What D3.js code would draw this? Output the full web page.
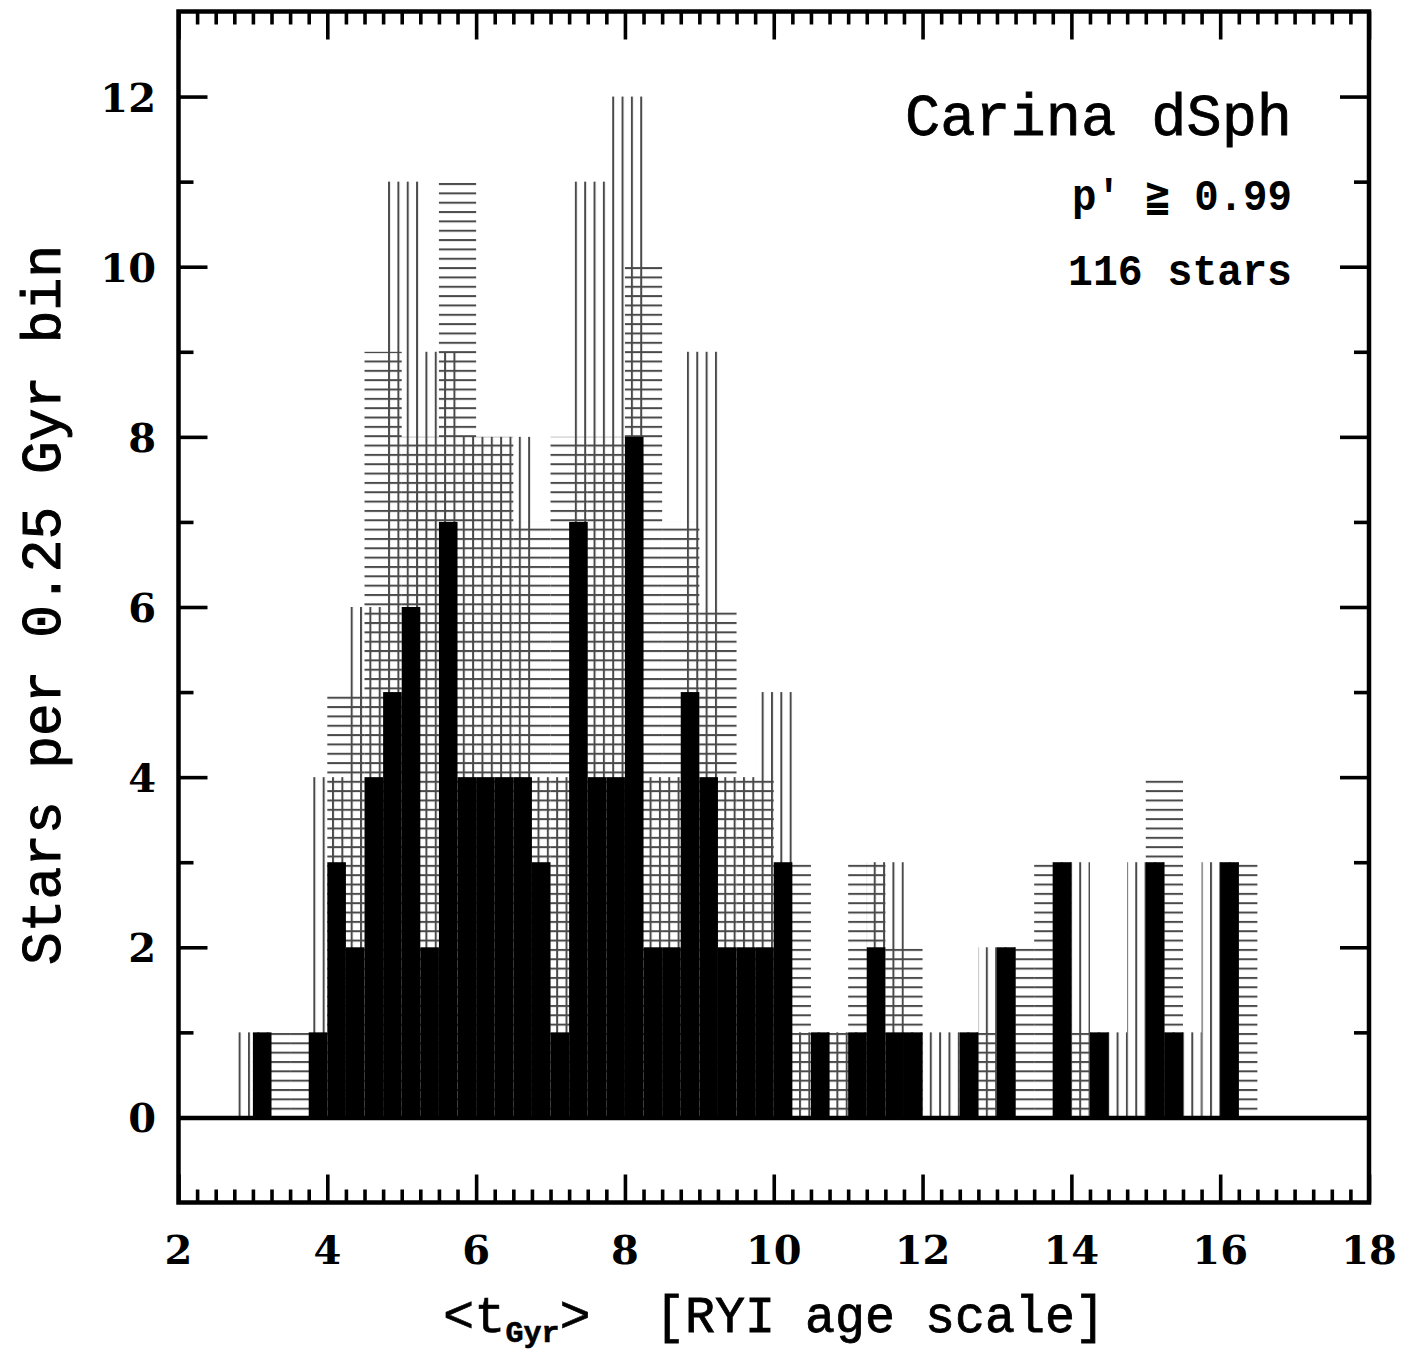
<!DOCTYPE html>
<html><head><meta charset="utf-8">
<script src="https://cdn.jsdelivr.net/npm/d3@7"></script>
<style>body{margin:0;background:#fff}</style>
</head><body><svg id="c" width="1411" height="1353"></svg>
<script>
// ---- data ----
// stars per 0.25 Gyr bin (filled black), bins start at 3.00
const fineStart = 3.0;
const fineWidth = 0.25;
const fineCounts = [1,0,0,1,3,2,4,5,6,2,7,4,4,4,4,3,1,7,4,4,8,2,2,5,4,2,2,2,3,0,1,0,1,2,1,1,0,0,1,0,2,0,0,3,0,1,0,0,3,1,0,0,3];
// 0.5 Gyr bins, edges on whole/half Gyr (horizontal hatching)
const hStart = 3.0;
const coarseWidth = 0.5;
const hCounts = [1,1,5,9,8,11,8,7,8,8,10,7,6,4,3,1,3,2,0,1,2,3,1,0,4,0,3];
// 0.5 Gyr bins, edges on odd quarters (vertical hatching)
const vStart = 2.75;
const vCounts = [1,0,4,6,11,9,8,8,4,11,12,4,9,4,5,1,1,3,1,1,2,0,3,1,3,1,3];
const xTickLabels = [2,4,6,8,10,12,14,16,18];
const yTickLabels = [0,2,4,6,8,10,12];
const xDomain = [2,18];
const yDomain = [-1,13];

const svg = d3.select('#c');
const x = d3.scaleLinear().domain(xDomain).range([178.5,1369]);
const y = d3.scaleLinear().domain(yDomain).range([1202.5,11.5]);

const defs = svg.append('defs');
const hatchCol = '#4a4a4a';
const vp = defs.append('pattern').attr('id','vhatch').attr('patternUnits','userSpaceOnUse')
  .attr('x',350.7).attr('y',0).attr('width',9.34).attr('height',20);
vp.append('rect').attr('x',0).attr('y',0).attr('width',2).attr('height',20).attr('fill',hatchCol);
const hp = defs.append('pattern').attr('id','hhatch').attr('patternUnits','userSpaceOnUse')
  .attr('x',0).attr('y',780.8).attr('width',20).attr('height',9.34);
hp.append('rect').attr('x',0).attr('y',0).attr('width',20).attr('height',2).attr('fill',hatchCol);

function bins(start, width, counts){
  return counts.map((c,i)=>({x0:start+i*width, x1:start+(i+1)*width, n:c})).filter(d=>d.n>0);
}

const plot = svg.append('g');
plot.selectAll('rect.h').data(bins(hStart,coarseWidth,hCounts)).join('rect').attr('class','h')
  .attr('x',d=>x(d.x0)).attr('width',d=>x(d.x1)-x(d.x0))
  .attr('y',d=>y(d.n)).attr('height',d=>y(0)-y(d.n)).attr('fill','url(#hhatch)');
plot.selectAll('rect.v').data(bins(vStart,coarseWidth,vCounts)).join('rect').attr('class','v')
  .attr('x',d=>x(d.x0)).attr('width',d=>x(d.x1)-x(d.x0))
  .attr('y',d=>y(d.n)).attr('height',d=>y(0)-y(d.n)).attr('fill','url(#vhatch)');
plot.selectAll('rect.b').data(bins(fineStart,fineWidth,fineCounts)).join('rect').attr('class','b')
  .attr('x',d=>x(d.x0)).attr('width',d=>x(d.x1)-x(d.x0))
  .attr('y',d=>y(d.n)).attr('height',d=>y(0)-y(d.n)).attr('fill','#000');

// zero line
svg.append('line').attr('x1',x(xDomain[0])).attr('x2',x(xDomain[1])).attr('y1',y(0)+0.5).attr('y2',y(0)+0.5)
  .attr('stroke','#000').attr('stroke-width',4.5);

// ticks
const xMaj = d3.range(2,18.001,2);
const xMin = d3.range(2,18.001,0.25).filter(v=>Math.abs(v/2-Math.round(v/2))>1e-6);
const yMaj = d3.range(0,12.001,2);
const yMin = d3.range(1,12,2);
function styleAxis(g){ g.select('.domain').remove(); g.selectAll('line').attr('stroke','#000').attr('stroke-width',3.6); g.selectAll('text').remove(); }
svg.append('g').attr('transform',`translate(0,${y(yDomain[0])})`).call(d3.axisBottom(x).tickValues(xMaj).tickSize(-28)).call(styleAxis);
svg.append('g').attr('transform',`translate(0,${y(yDomain[0])})`).call(d3.axisBottom(x).tickValues(xMin).tickSize(-13)).call(styleAxis);
svg.append('g').attr('transform',`translate(0,${y(yDomain[1])})`).call(d3.axisTop(x).tickValues(xMaj).tickSize(-28)).call(styleAxis);
svg.append('g').attr('transform',`translate(0,${y(yDomain[1])})`).call(d3.axisTop(x).tickValues(xMin).tickSize(-13)).call(styleAxis);
svg.append('g').attr('transform',`translate(${x(xDomain[0])},0)`).call(d3.axisLeft(y).tickValues(yMaj).tickSize(-29)).call(styleAxis);
svg.append('g').attr('transform',`translate(${x(xDomain[0])},0)`).call(d3.axisLeft(y).tickValues(yMin).tickSize(-15)).call(styleAxis);
svg.append('g').attr('transform',`translate(${x(xDomain[1])},0)`).call(d3.axisRight(y).tickValues(yMaj).tickSize(-29)).call(styleAxis);
svg.append('g').attr('transform',`translate(${x(xDomain[1])},0)`).call(d3.axisRight(y).tickValues(yMin).tickSize(-15)).call(styleAxis);

// frame
svg.append('rect').attr('x',x(xDomain[0])).attr('y',y(yDomain[1])).attr('width',x(xDomain[1])-x(xDomain[0]))
  .attr('height',y(yDomain[0])-y(yDomain[1])).attr('fill','none').attr('stroke','#000').attr('stroke-width',4.5);

// tick labels
const tickFont = "'DejaVu Serif', serif";
svg.selectAll('text.xl').data(xTickLabels).join('text').attr('class','xl')
  .attr('x',d=>x(d)).attr('y',1264).attr('text-anchor','middle')
  .attr('font-family',tickFont).attr('font-weight','bold').attr('font-size',40).text(d=>d);
svg.selectAll('text.yl').data(yTickLabels).join('text').attr('class','yl')
  .attr('x',156).attr('y',d=>y(d)+15).attr('text-anchor','end')
  .attr('font-family',tickFont).attr('font-weight','bold').attr('font-size',40).text(d=>d);

// annotations
const mono = "'Liberation Mono', 'DejaVu Sans Mono', monospace";
svg.append('text').attr('x',1292).attr('y',135).attr('text-anchor','end').attr('font-family',mono)
  .attr('font-size',60).attr('stroke','#000').attr('stroke-width',0.8)
  .attr('textLength',387).attr('lengthAdjust','spacingAndGlyphs').text('Carina dSph');
svg.append('text').attr('x',1292).attr('y',210).attr('text-anchor','end').attr('font-family',mono)
  .attr('font-weight','bold').attr('font-size',44).attr('textLength',220).attr('lengthAdjust','spacingAndGlyphs').text('p′ ≧ 0.99');
svg.append('text').attr('x',1292).attr('y',285).attr('text-anchor','end').attr('font-family',mono)
  .attr('font-weight','bold').attr('font-size',44).attr('textLength',224).attr('lengthAdjust','spacingAndGlyphs').text('116 stars');

// y axis title
svg.append('text').attr('transform','translate(60,605) rotate(-90)').attr('text-anchor','middle')
  .attr('font-family',mono).attr('font-size',56).attr('stroke','#000').attr('stroke-width',1)
  .attr('textLength',720).attr('lengthAdjust','spacingAndGlyphs')
  .text('Stars per 0.25 Gyr bin');

// x axis title
const xt = svg.append('text').attr('y',1332).attr('font-family',mono).attr('font-size',52)
  .attr('stroke','#000').attr('stroke-width',0.6);
xt.append('tspan').attr('x',443).text('<t');
xt.append('tspan').attr('font-size',30).attr('font-weight','bold').attr('dy',10).text('Gyr');
xt.append('tspan').attr('dy',-10).text('>');
svg.append('text').attr('x',655).attr('y',1332).attr('font-family',mono).attr('font-size',52)
  .attr('stroke','#000').attr('stroke-width',0.8)
  .attr('textLength',450).attr('lengthAdjust','spacingAndGlyphs').text('[RYI age scale]');
</script></body></html>
